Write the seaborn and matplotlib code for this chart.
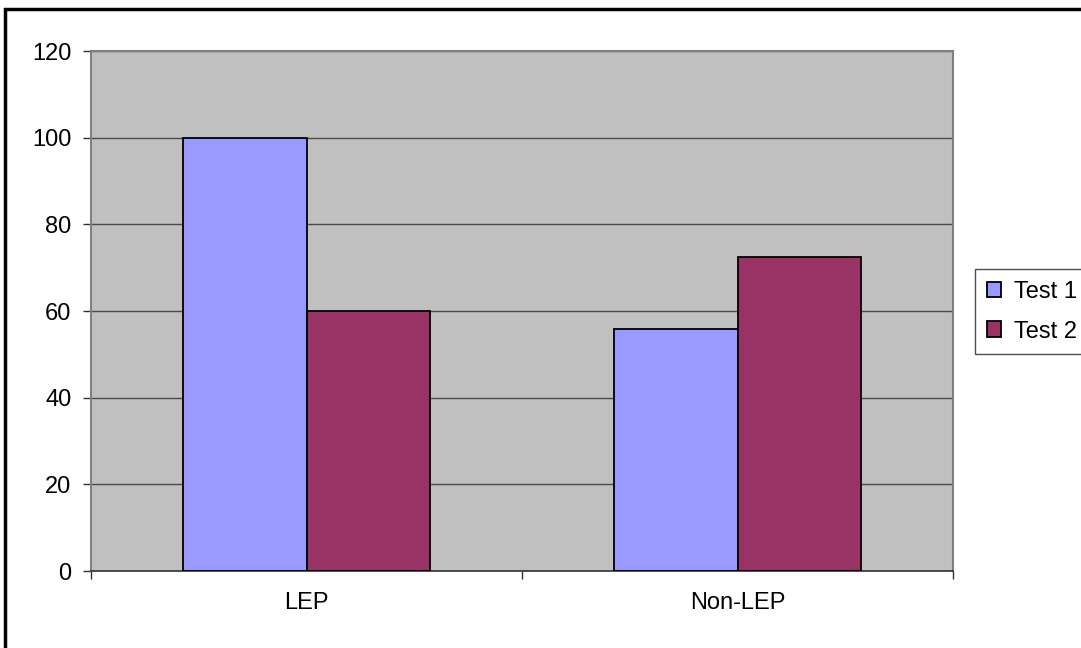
import matplotlib
matplotlib.use("Agg")
import matplotlib.pyplot as plt
import matplotlib.patches as mpatches
import seaborn as sns
import pandas as pd

categories = ["LEP", "Non-LEP"]
series = ["Test 1", "Test 2"]
test1 = [100, 55.8]
test2 = [60, 72.4]
colors = ["#9999FF", "#993366"]
y_ticks = [0, 20, 40, 60, 80, 100, 120]

df = pd.DataFrame({
    "group": categories * 2,
    "test": [series[0]] * 2 + [series[1]] * 2,
    "score": test1 + test2,
})

sns.set_theme(style="white")
plt.rcParams["font.family"] = ["Liberation Sans", "DejaVu Sans"]

fig = plt.figure(figsize=(10.81, 6.48), dpi=100)
fig.patch.set_facecolor("white")
ax = fig.add_axes([91 / 1081, 1 - 571 / 648, 862 / 1081, 520 / 648])
ax.set_facecolor("#C0C0C0")

sns.barplot(data=df, x="group", y="score", hue="test", hue_order=series,
            palette=colors, width=0.575, edgecolor="black", linewidth=1.3,
            saturation=1, ax=ax, legend=False, zorder=3)

ax.set_ylim(0, 120)
ax.set_xlim(-0.5, 1.5)
ax.set_yticks(y_ticks)
ax.set_yticklabels([str(v) for v in y_ticks], fontsize=17, color="black")
ax.yaxis.grid(True, color="#4a4a4a", linewidth=1)
ax.set_axisbelow(True)

# category boundary ticks, labels centred under each group
ax.set_xticks([-0.5, 0.5, 1.5])
ax.set_xticklabels([])
ax.set_xticks([0, 1], minor=True)
ax.set_xticklabels(categories, minor=True, fontsize=17, color="black")
ax.tick_params(axis="x", which="major", direction="out", length=6, width=1, color="#333333", bottom=True)
ax.tick_params(axis="x", which="minor", length=0, pad=15)
ax.tick_params(axis="y", direction="out", length=6, width=1, color="#333333", left=True, pad=8)
ax.set_xlabel("")
ax.set_ylabel("")

for side in ["top", "right", "left"]:
    ax.spines[side].set_color("#808080")
    ax.spines[side].set_linewidth(1.5)
ax.spines["bottom"].set_color("#333333")
ax.spines["bottom"].set_linewidth(1.2)

handles = [mpatches.Patch(facecolor=c, edgecolor="black", linewidth=1.3, label=s)
           for c, s in zip(colors, series)]
leg = fig.legend(handles=handles, loc="upper left", bbox_to_anchor=(975 / 1081, 1 - 269 / 648),
                 fontsize=17, frameon=True, fancybox=False, handlelength=0.6, handleheight=0.65,
                 handletextpad=0.55, borderpad=0.5, labelspacing=0.75, borderaxespad=0)
leg.get_frame().set_edgecolor("#222222")
leg.get_frame().set_linewidth(1)
for t in leg.get_texts():
    t.set_color("black")

# outer chart frame
fig.add_artist(mpatches.Rectangle((5 / 1081, -0.1), 1.2, 1 - 9 / 648 + 0.1,
                                  transform=fig.transFigure, fill=False,
                                  edgecolor="black", linewidth=2.5))

fig.savefig("out.png", dpi=100)
